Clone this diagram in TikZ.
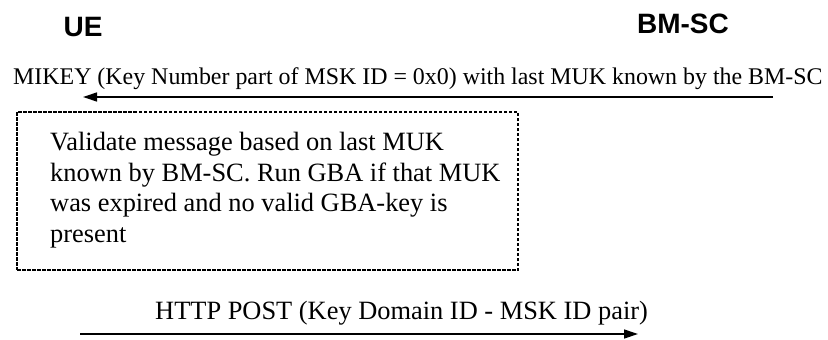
\documentclass[tikz,border=0pt]{standalone}
\usepackage{fontspec}
\setmainfont{Liberation Serif}
\newfontfamily\headfont{Liberation Sans}
\usetikzlibrary{arrows.meta}

\begin{document}
\begin{tikzpicture}[
    x=1pt, y=-1pt,
    entity/.style={font=\headfont\bfseries\fontsize{28}{32}\selectfont,inner sep=0pt,anchor=base},
    msglabel/.style={font=\fontsize{23.9}{28}\selectfont,inner sep=0pt,anchor=base west},
    msg/.style={draw,line width=1.3pt,-{Triangle[length=14pt,width=9pt]}},
    checkbox/.style={draw,line width=2.4pt,dash pattern=on 3.5pt off 1.5pt,minimum width=501pt,minimum height=158pt,inner sep=0pt},
    boxtext/.style={font=\fontsize{26.4}{30.5}\selectfont,align=left,inner sep=0pt,anchor=north west}]
  \useasboundingbox (0,0) rectangle (828,340);
  \node[entity] (ue) at (83,36) {UE};
  \node[entity] (bmsc) at (683,33) {BM-SC};
  % MIKEY from BM-SC to UE
  \coordinate (bmsc1) at (773,97);
  \coordinate (ue1) at (83,97);
  \node[msglabel] (mikey) at (13,84) {MIKEY (Key Number part of MSK ID = 0x0) with last MUK known by the BM-SC};
  \draw[msg] (bmsc1) -- (ue1);
  % check at UE
  \node[checkbox] (check) at (267.5,191) {};
  \node[boxtext] (checktxt) at (50,132) {Validate message based on last MUK\\known by BM-SC. Run GBA if that MUK\\was expired and no valid GBA-key is\\present};
  % HTTP POST from UE to BM-SC
  \coordinate (ue2) at (80,334);
  \coordinate (bmsc2) at (638,334);
  \node[msglabel,font=\fontsize{26.4}{30}\selectfont] (post) at (155,319) {HTTP POST (Key Domain ID - MSK ID pair)};
  \draw[msg] (ue2) -- (bmsc2);
\end{tikzpicture}
\end{document}
